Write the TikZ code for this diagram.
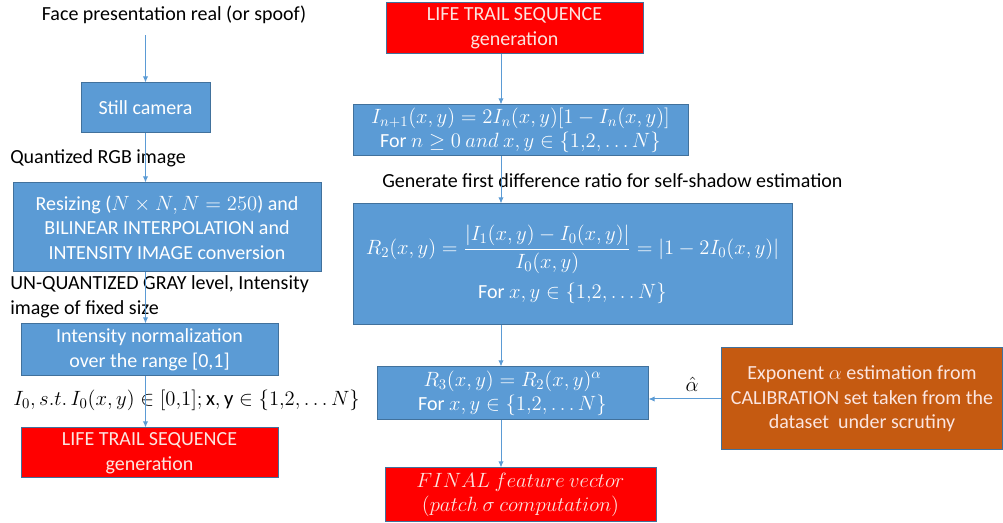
\documentclass[tikz,border=0pt]{standalone}
\usepackage{fix-cm}
\usepackage{amsmath}
\usepackage{fontspec}
\setmainfont{Carlito}
\usepackage{tikz}
\usetikzlibrary{arrows.meta,positioning}
\DeclareMathSizes{15}{15.5}{11}{8.5}
\definecolor{StepBlue}{HTML}{5B9BD5}
\definecolor{Edge}{HTML}{41719C}
\definecolor{Alarm}{HTML}{FF0000}
\definecolor{Rust}{HTML}{C55A11}
\definecolor{Pale}{HTML}{FBE5E0}

\begin{document}
\begin{tikzpicture}[
  x=0.75pt,y=-0.75pt,
  font=\fontsize{15}{18.5}\selectfont,
  bluebox/.style={draw=Edge,fill=StepBlue,text=white,align=center,inner sep=2pt,line width=0.75pt},
  redbox/.style={bluebox,fill=Alarm,text=Pale},
  rustbox/.style={bluebox,fill=Rust,text=Pale},
  note/.style={anchor=west,align=left,inner sep=0pt},
  arrow/.style={-{Latex[length=1.6mm,width=1.4mm]},draw=StepBlue,line width=0.75pt}
]
\useasboundingbox (0,0) rectangle (1003,523);
% left column: acquisition and preprocessing
\node (face) at (174,15) {Face presentation real (or spoof)};
\node[bluebox,minimum width=96.75pt,minimum height=37.5pt] (cam) at (145.5,108) {Still camera};
\node[bluebox,minimum width=231pt,minimum height=66.75pt] (resize) at (167,227.5)
  {Resizing ($N\times N, N=250$) and\\BILINEAR INTERPOLATION and\\INTENSITY IMAGE conversion};
\node[bluebox,minimum width=192.75pt,minimum height=39pt] (norm) at (149.5,350)
  {Intensity normalization\\over the range [0,1]};
\node[redbox,minimum width=192.75pt,minimum height=37.5pt] (lifeL) at (149.5,453)
  {LIFE TRAIL SEQUENCE\\generation};
\node[note] (rgb) at (10,158) {Quantized RGB image};
\node[note] (gray) at (10,297) {UN-QUANTIZED GRAY level, Intensity\\image of fixed size};
\node[note] (init) at (13,400) {$I_0, s.t.\,I_0(x,y)\in[0{,}1]; \mathrm{x,y}\in\{1{,}2,\ldots N\}$};
\draw[arrow,shorten <=5pt] (face.south -| cam) -- (cam);
\draw[arrow] (cam.south) -- (cam.south |- resize.north);
\draw[arrow] (resize.south -| cam) -- (cam |- norm.north);
\draw[arrow] (norm.south -| cam) -- (cam |- lifeL.north);

% right column: life trail and shadow ratio
\coordinate (spine) at (501,0);
\node[redbox,minimum width=192.75pt,minimum height=38.25pt] (lifeR) at (514.5,28.5)
  {LIFE TRAIL SEQUENCE\\generation};
\node[bluebox,minimum width=251.25pt,minimum height=38.25pt,inner sep=0pt] (iter) at (520.5,130.5)
  {$I_{n+1}(x,y)=2I_n(x,y)[1-I_n(x,y)]$\\For $n\geq 0\ and\ x,y\in\{1{,}2,\ldots N\}$};
\node[note] (gen) at (382,181) {Generate first difference ratio for self-shadow estimation};
\node[bluebox,minimum width=329.25pt,minimum height=90.75pt] (ratio) at (572.5,264.5)
  {$R_2(x,y)=\dfrac{|I_1(x,y)-I_0(x,y)|}{I_0(x,y)}=|1-2I_0(x,y)|$\\[6pt]For $x,y\in\{1{,}2,\ldots N\}$};
\node[bluebox,minimum width=203.25pt,minimum height=39.75pt,inner sep=0pt] (pow) at (512.5,393.5)
  {$R_3(x,y)=R_2(x,y)^{\alpha}$\\For $x,y\in\{1{,}2,\ldots N\}$};
\node[redbox,minimum width=203.25pt,minimum height=40.5pt,inner sep=0pt] (final) at (520.5,495)
  {$FINAL\ feature\ vector$\\$(patch\ \sigma\ computation)$};
\node[rustbox,minimum width=210.75pt,minimum height=76.5pt] (calib) at (862,399)
  {Exponent $\alpha$ estimation from\\CALIBRATION set taken from the\\dataset\ \ under scrutiny};
\draw[arrow] (lifeR.south -| spine) -- (spine |- iter.north);
\draw[arrow] (iter.south -| spine) -- (spine |- ratio.north);
\draw[arrow] (ratio.south -| spine) -- (spine |- pow.north);
\draw[arrow] (pow.south -| spine) -- (spine |- final.north);
\draw[arrow] (calib.west) -- (calib.west -| pow.east) node[pos=0.4,above=2pt] {$\hat{\alpha}$};
\end{tikzpicture}
\end{document}
